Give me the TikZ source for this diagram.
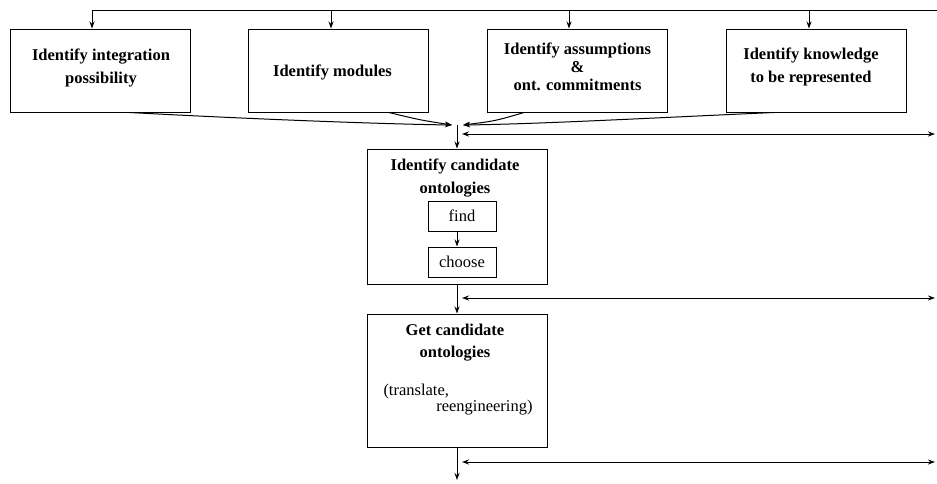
\documentclass[tikz,border=0pt]{standalone}
\usepackage{fontspec}
\setmainfont{Liberation Serif}
\usetikzlibrary{arrows.meta,calc}
\begin{document}
\begin{tikzpicture}[x=1pt,y=-1pt,
  line width=1pt,
  box/.style={draw, line width=1pt, minimum width=180pt, minimum height=83pt, inner sep=0pt},
  smallbox/.style={draw, line width=1pt, minimum width=68pt, minimum height=30pt, inner sep=0pt, font=\fontsize{16.5}{20}\selectfont},
  ttl/.style={align=center, font=\bfseries\fontsize{16.5}{23}\selectfont, inner sep=0pt},
  reg/.style={font=\fontsize{16.5}{20}\selectfont, inner sep=0pt},
  arr/.style={-{Stealth[length=7pt,width=5pt]}},
  dbl/.style={{Stealth[length=7pt,width=5pt]}-{Stealth[length=7pt,width=5pt]}}
]
\useasboundingbox (0,0) rectangle (937,483);

% top row boxes
\node[box] (b1) at (100,70.5) {};
\node[box] (b2) at (338.5,70.5) {};
\node[box] (b3) at (577.5,70.5) {};
\node[box] (b4) at (816.5,70.5) {};
\node[ttl] (t1) at (101,67.5) {Identify integration\\possibility};
\node[ttl] (t2) at (332.5,72) {Identify modules};
\node[ttl,font=\bfseries\fontsize{16.5}{18}\selectfont] (t3) at (577.5,66.5) {Identify assumptions\\\&\\ont. commitments};
\node[ttl] (t4) at (811,66.5) {Identify knowledge\\to be represented};

% top distribution line
\coordinate (a1) at (92,10);
\coordinate (a2) at (331,10);
\coordinate (a3) at (569,10);
\coordinate (a4) at (809,10);
\coordinate (aE) at (937,10);
\draw (a1) -- (aE);
\draw[arr] (a1) -- (a1 |- b1.north);
\draw[arr] (a2) -- (a2 |- b2.north);
\draw[arr] (a3) -- (a3 |- b3.north);
\draw[arr] (a4) -- (a4 |- b4.north);

% junction
\coordinate (j) at (457,125);
\coordinate (jl) at (452,125);
\coordinate (jr) at (463,125);
\draw[arr] ($(b1.south west)+(120,0)$) .. controls (250,119) and (380,124) .. (jl);
\draw[arr] ($(b2.south west)+(141,0)$) .. controls (420,120) .. (jl);
\draw[arr] ($(b3.south west)+(37,0)$) .. controls (495,121) .. (jr);
\draw[arr] ($(b4.south west)+(48,0)$) .. controls (650,118) and (540,124) .. (jr);

% middle box
\node[draw, line width=1pt, minimum width=180pt, minimum height=135pt, inner sep=0pt] (b5) at (457.5,216.5) {};
\node[ttl] (t5) at (455,178.5) {Identify candidate\\ontologies};
\node[smallbox] (find) at (462,216) {find};
\node[smallbox] (choose) at (462,262) {choose};
\draw[arr] (j) -- (j |- b5.north);
\draw[arr] (find.south -| j) -- (choose.north -| j);

% lower box
\node[draw, line width=1pt, minimum width=180pt, minimum height=133pt, inner sep=0pt] (b6) at (457.5,380.5) {};
\node[ttl, font=\bfseries\fontsize{16.5}{22}\selectfont] (t6) at (455,343) {Get candidate\\ontologies};
\node[reg, anchor=west] (t7) at (383,392) {(translate,};
\node[reg, anchor=east] (t8) at (533,408) {reengineering)};
\draw[arr] (b5.south -| j) -- (b6.north -| j);
\coordinate (bot) at (457,480);
\draw[arr] (b6.south -| j) -- (bot);

% side double arrows
\coordinate (l1) at (462,134);
\coordinate (r1) at (935,134);
\coordinate (l2) at (462,298);
\coordinate (r2) at (935,298);
\coordinate (l3) at (462,462);
\coordinate (r3) at (935,462);
\draw[dbl] (l1) -- (r1);
\draw[dbl] (l2) -- (r2);
\draw[dbl] (l3) -- (r3);
\end{tikzpicture}
\end{document}
